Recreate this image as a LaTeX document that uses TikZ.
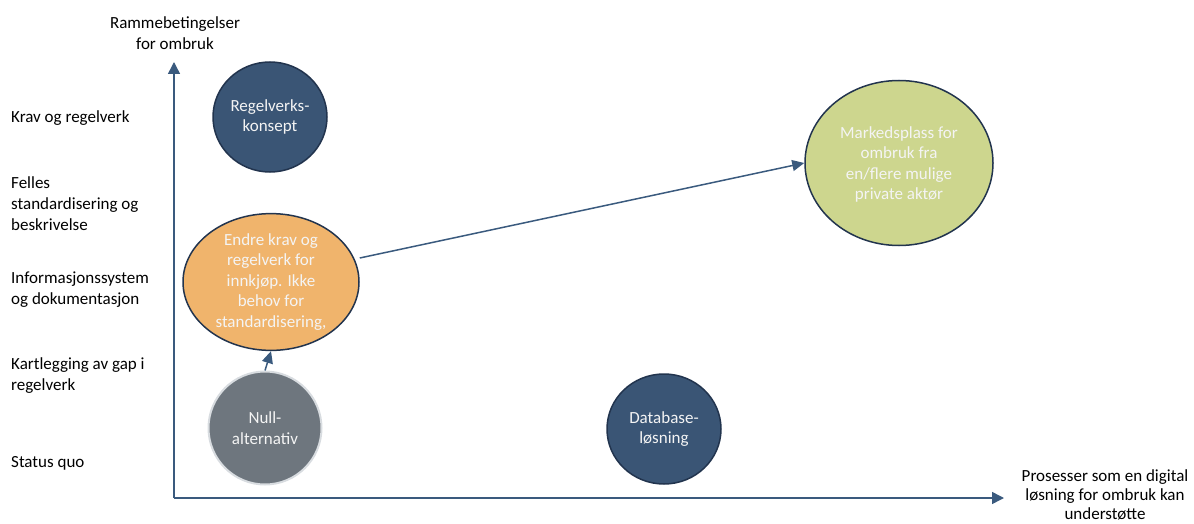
\documentclass[tikz,border=0pt]{standalone}
\usepackage{fontspec}
\setmainfont{Carlito}
\usetikzlibrary{shapes.geometric,arrows.meta}
\definecolor{axisblue}{HTML}{3A5A7E}
\definecolor{darkblue}{HTML}{3A5575}
\definecolor{edgedark}{HTML}{22344E}
\definecolor{orangefill}{HTML}{F0B46C}
\definecolor{greenfill}{HTML}{CDD68E}
\definecolor{greyfill}{HTML}{6E767E}
\definecolor{greyedge}{HTML}{D8DCE0}
\definecolor{textwhite}{HTML}{F4F4F4}
\tikzset{
  lbl/.style={font=\fontsize{17}{21}\selectfont, text=black, inner sep=0pt},
  bubble/.style={ellipse, draw=edgedark, line width=1.5pt, inner sep=0pt,
     align=center, text=textwhite, font=\fontsize{17}{20.5}\selectfont},
  axis/.style={draw=axisblue, line width=1.5pt, -{Triangle[length=12pt,width=12pt]}},
  conn/.style={draw=axisblue, line width=1.5pt, -{Triangle[length=12pt,width=11pt]}}
}
\begin{document}
\begin{tikzpicture}[x=1pt,y=-1pt]
\useasboundingbox (0,0) rectangle (1194,524);
% axes
\coordinate (origin) at (174,498);
\coordinate (ytip) at (174,62);
\coordinate (xtip) at (1004,498);
\draw[axis] (origin) -- (ytip);
\draw[axis] (origin) -- (xtip);
% axis titles
\node[lbl, align=center] (ytitle) at (175,33) {Rammebetingelser\\for ombruk};
\node[lbl, align=center, font=\fontsize{17}{19}\selectfont] (xtitle) at (1105,495) {Prosesser som en digital\\løsning for ombruk kan\\understøtte};
% left labels
\node[lbl, anchor=west, align=left] (l1) at (11,118) {Krav og regelverk};
\node[lbl, anchor=west, align=left] (l2) at (11,204) {Felles\\standardisering og\\beskrivelse};
\node[lbl, anchor=west, align=left] (l3) at (11,290) {Informasjonssystem\\og dokumentasjon};
\node[lbl, anchor=west, align=left] (l4) at (11,376) {Kartlegging av gap i\\regelverk};
\node[lbl, anchor=west, align=left] (l5) at (11,463) {Status quo};
% bubbles
\node[bubble, fill=darkblue, minimum width=114pt, minimum height=110pt] (regel) at (270,117) {Regelverks-\\konsept};
\node[bubble, fill=orangefill, minimum width=176pt, minimum height=123pt] (endre) at (271,282) {Endre krav og\\regelverk for\\innkjøp. Ikke\\behov for\\standardisering,};
\node[bubble, fill=greyfill, draw=greyedge, line width=2pt, minimum width=113pt, minimum height=113pt] (null) at (265,428) {Null-\\alternativ};
\node[bubble, fill=darkblue, minimum width=114pt, minimum height=110pt] (db) at (664,429) {Database-\\løsning};
\node[bubble, fill=greenfill, minimum width=188pt, minimum height=165pt, text depth=0pt] (marked) at (899,163) {Markedsplass for\\ombruk fra\\en/flere mulige\\private aktør};
% connectors
\draw[conn] (null.north) -- (endre.south);
\draw[conn] (endre.east) ++(0,-24) -- (marked.west);
\end{tikzpicture}
\end{document}
